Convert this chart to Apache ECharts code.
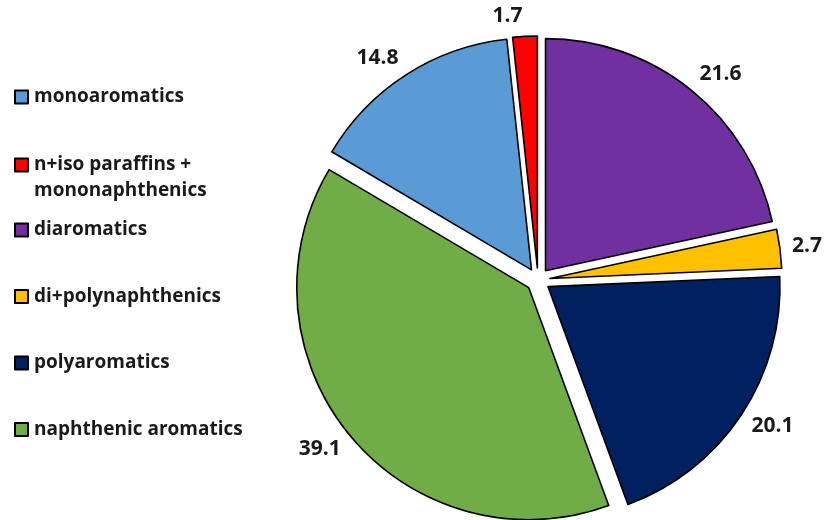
<!DOCTYPE html>
<html>
<head>
<meta charset="utf-8">
<title>Composition</title>
<script src="https://cdn.jsdelivr.net/npm/echarts@6/dist/echarts.min.js"></script>
<style>
  html, body { margin: 0; padding: 0; background: #ffffff; }
  #chart { width: 824px; height: 520px; }
</style>
</head>
<body>
<div id="chart"></div>
<script>
// Group names, in drawing order (clockwise)
const categories = [
  'monoaromatics',
  'n+iso paraffins +\nmononaphthenics',
  'diaromatics',
  'di+polynaphthenics',
  'polyaromatics',
  'naphthenic aromatics'
];
// Share of each group, %
const values = [14.8, 1.7, 21.6, 2.7, 20.1, 39.1];
const colors = ['#5b9bd5', '#ff0000', '#7030a0', '#ffc000', '#002060', '#70ad47'];

const FONT = '"Open Sans", "Liberation Sans", sans-serif';
const TEXT_COLOR = '#1a1a1a';

// Rotate so the first two groups end exactly at 12 o'clock
const total = values.reduce((a, b) => a + b, 0);
const leadShare = (values[0] + values[1]) / total;
const startAngle = 90 + leadShare * 360;

// Vertical component of each slice's mid direction (screen y grows downward)
const midDirY = [];
{
  let acc = 0;
  values.forEach(v => {
    const mid = (startAngle - (acc + v / 2) / total * 360) * Math.PI / 180;
    midDirY.push(-Math.sin(mid));
    acc += v;
  });
}

const pieData = categories.map((name, i) => ({
  name: name,
  value: values[i],
  selected: true,
  itemStyle: { color: colors[i] }
}));

const legendText = {
  fontFamily: FONT,
  fontWeight: 'bold',
  fontSize: 19,
  lineHeight: 26,
  color: TEXT_COLOR,
  padding: [0, 0, 0, 1]
};

function legendBlock(names, top, extra) {
  return Object.assign({
    orient: 'vertical',
    left: 14,
    top: top,
    padding: 0,
    icon: 'rect',
    itemWidth: 13,
    itemHeight: 13,
    itemGap: 40.5,
    selectedMode: false,
    data: names,
    textStyle: Object.assign({}, legendText)
  }, extra || {});
}

const chart = echarts.init(document.getElementById('chart'), null, { renderer: 'canvas' });
chart.setOption({
  animation: false,
  backgroundColor: '#ffffff',
  legend: [
    legendBlock([categories[0]], 84),
    // two-line entry: a blank leading line keeps the swatch beside the first line
    legendBlock([categories[1]], 126, { formatter: name => '\n' + name }),
    legendBlock(categories.slice(2), 217)
  ],
  series: [{
    type: 'pie',
    center: [538, 280],
    radius: [0, 232],
    startAngle: startAngle,
    clockwise: true,
    selectedMode: 'multiple',
    selectedOffset: 12,
    avoidLabelOverlap: false,
    emphasis: { disabled: true },
    itemStyle: { borderColor: '#000000', borderWidth: 1.6 },
    select: { itemStyle: { borderColor: '#000000', borderWidth: 1.6 } },
    label: {
      show: true,
      position: 'outside',
      formatter: p => p.value.toFixed(1),
      fontFamily: FONT,
      fontWeight: 'bold',
      fontSize: 21,
      color: TEXT_COLOR,
      distanceToLabelLine: 2
    },
    labelLine: { show: false, length: 10, length2: 0 },
    // push each value label a little further out along its slice's direction
    labelLayout: params => ({ dy: midDirY[params.dataIndex] * 10 }),
    data: pieData
  }]
});
</script>
</body>
</html>
